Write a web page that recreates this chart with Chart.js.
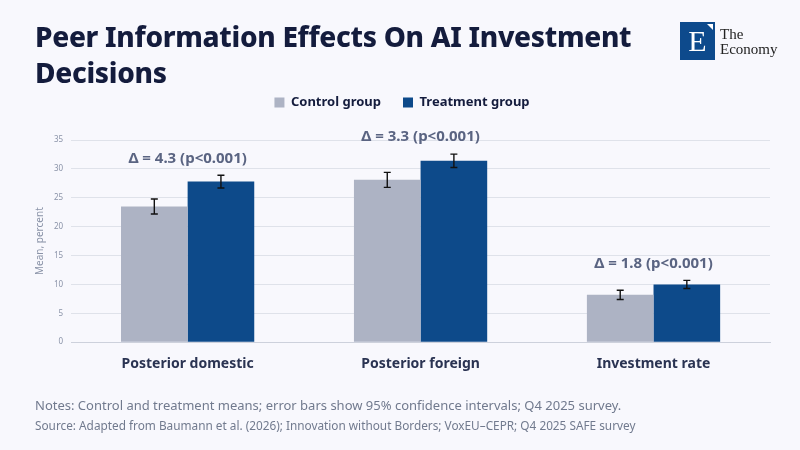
<!DOCTYPE html>
<html>
<head>
<meta charset="utf-8">
<script src="https://cdn.jsdelivr.net/npm/chart.js@4"></script>
<style>
  body { margin: 0; background: #f8f8fd; }
  #wrap { position: relative; width: 800px; height: 450px; overflow: hidden; font-family: "Noto Sans", sans-serif; }
  #chart { position: absolute; left: 0; top: 0; }
  h1 { position: absolute; left: 35px; top: 18px; margin: 0; font-size: 28px; line-height: 36px; font-weight: 800; color: #141c3d; letter-spacing: -0.3px; width: 640px; }
  .logo { position: absolute; left: 680px; top: 22px; }
  .logo .sq { position: absolute; left: 0; top: 0; width: 35px; height: 38px; background: #0d4a8c; color: #fff; font-family: "Liberation Serif", serif; font-size: 30px; line-height: 38px; text-align: center; }
  .logo .tri { position: absolute; left: 27px; top: 2px; width: 0; height: 0; border-top: 6px solid #fff; border-left: 6px solid transparent; }
  .logo .name { position: absolute; left: 40px; top: 5px; font-family: "Liberation Serif", serif; font-size: 15px; line-height: 15px; color: #222; white-space: nowrap; }
  .notes { position: absolute; left: 35px; top: 396px; font-size: 13px; color: #717a8e; white-space: nowrap; }
  .source { position: absolute; left: 35px; top: 417px; font-size: 11.8px; color: #717a8e; white-space: nowrap; }
</style>
</head>
<body>
<div id="wrap">
  <canvas id="chart" width="800" height="450"></canvas>
  <h1>Peer Information Effects On AI Investment Decisions</h1>
  <div class="logo"><div class="sq">E</div><div class="tri"></div><div class="name">The<br>Economy</div></div>
  <div class="notes">Notes: Control and treatment means; error bars show 95% confidence intervals; Q4 2025 survey.</div>
  <div class="source">Source: Adapted from Baumann et al. (2026); Innovation without Borders; VoxEU–CEPR; Q4 2025 SAFE survey</div>
</div>
<script>
const categories = ['Posterior domestic', 'Posterior foreign', 'Investment rate'];
const controlMeans = [23.5, 28.1, 8.2];
const treatmentMeans = [27.8, 31.4, 10.0];
const controlCI = [1.3, 1.3, 0.8];
const treatmentCI = [1.1, 1.15, 0.7];
const pValues = ['p<0.001', 'p<0.001', 'p<0.001'];
const yTicks = [0, 5, 10, 15, 20, 25, 30, 35];

// extra room under the legend
const legendGap = {
  id: 'legendGap',
  beforeInit(chart) {
    const fit = chart.legend.fit;
    chart.legend.fit = function () {
      fit.bind(chart.legend)();
      this.height += 21;
    };
  }
};

const errorBars = {
  id: 'errorBars',
  afterDatasetsDraw(chart) {
    const ctx = chart.ctx;
    const y = chart.scales.y;
    const cis = [controlCI, treatmentCI];
    ctx.save();
    ctx.strokeStyle = '#111';
    ctx.lineWidth = 1.4;
    chart.data.datasets.forEach((ds, di) => {
      chart.getDatasetMeta(di).data.forEach((bar, i) => {
        const v = ds.data[i];
        const top = y.getPixelForValue(v + cis[di][i]);
        const bot = y.getPixelForValue(v - cis[di][i]);
        ctx.beginPath();
        ctx.moveTo(bar.x, top); ctx.lineTo(bar.x, bot);
        ctx.moveTo(bar.x - 3.5, top); ctx.lineTo(bar.x + 3.5, top);
        ctx.moveTo(bar.x - 3.5, bot); ctx.lineTo(bar.x + 3.5, bot);
        ctx.stroke();
      });
    });
    // delta labels above each group
    ctx.fillStyle = '#5a6482';
    ctx.font = 'bold 15px "Noto Sans", sans-serif';
    ctx.textAlign = 'center';
    ctx.textBaseline = 'middle';
    categories.forEach((c, i) => {
      const x = chart.scales.x.getPixelForValue(i);
      const hi = Math.max(controlMeans[i] + controlCI[i], treatmentMeans[i] + treatmentCI[i]);
      const d = (treatmentMeans[i] - controlMeans[i]).toFixed(1);
      ctx.fillText('Δ = ' + d + ' (' + pValues[i] + ')', x, y.getPixelForValue(hi) - 17);
    });
    ctx.restore();
  }
};

new Chart(document.getElementById('chart'), {
  type: 'bar',
  data: {
    labels: categories,
    datasets: [
      { label: 'Control group', data: controlMeans, backgroundColor: '#adb3c4' },
      { label: 'Treatment group', data: treatmentMeans, backgroundColor: '#0d4a8a' }
    ]
  },
  options: {
    responsive: false,
    animation: false,
    layout: { padding: { top: 74, left: 34, right: 30, bottom: 73 } },
    datasets: { bar: { categoryPercentage: 0.572, barPercentage: 1 } },
    plugins: {
      legend: {
        position: 'top',
        labels: {
          boxWidth: 10, boxHeight: 10, padding: 22,
          color: '#141c3d',
          font: { family: '"Noto Sans", sans-serif', size: 13, weight: 'bold' }
        }
      },
      tooltip: { enabled: false }
    },
    scales: {
      x: {
        grid: { display: false },
        border: { color: '#cdd1dc' },
        ticks: { color: '#2a3352', padding: 5, font: { family: '"Noto Sans", sans-serif', size: 14, weight: 'bold' } }
      },
      y: {
        min: 0, max: 35,
        afterBuildTicks(axis) { axis.ticks = yTicks.map(v => ({ value: v })); },
        grid: { color: '#dfe2ea', drawTicks: false },
        border: { display: false },
        ticks: { color: '#8a93a8', padding: 8, font: { family: '"Noto Sans", sans-serif', size: 8 } },
        title: { display: true, text: 'Mean, percent', color: '#8a93a8', padding: 0, font: { family: '"Noto Sans", sans-serif', size: 10 } }
      }
    }
  },
  plugins: [legendGap, errorBars]
});
</script>
</body>
</html>
